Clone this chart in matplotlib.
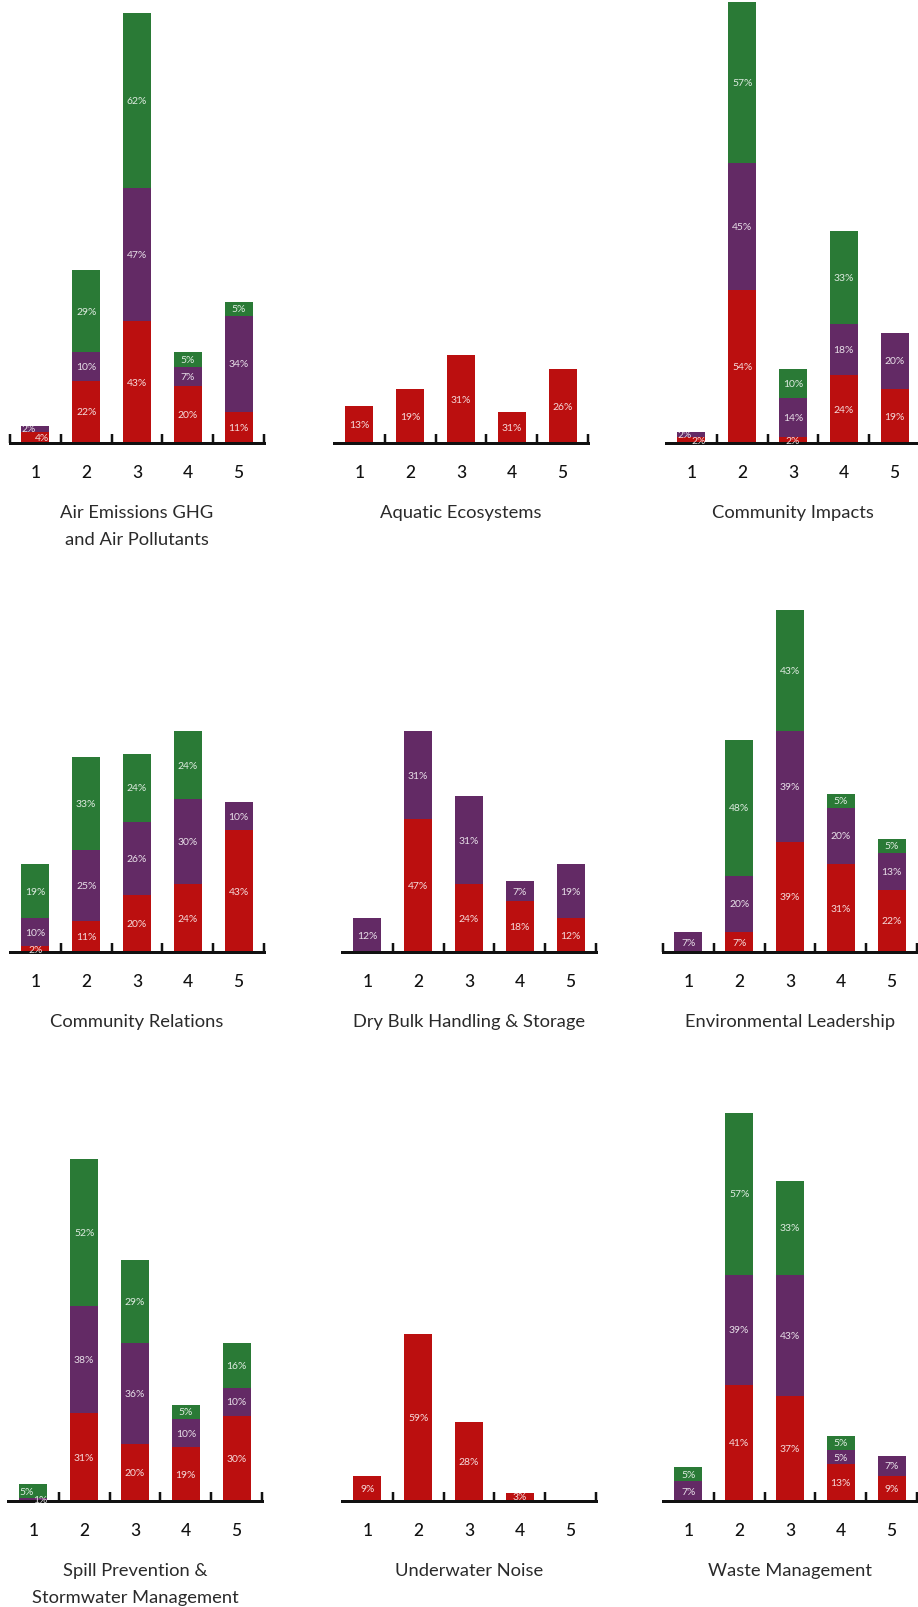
import matplotlib
matplotlib.use("Agg")
import matplotlib.pyplot as plt

titles = ["Air Emissions GHG\nand Air Pollutants", "Aquatic Ecosystems", "Community Impacts",
          "Community Relations", "Dry Bulk Handling & Storage", "Environmental Leadership",
          "Spill Prevention &\nStormwater Management", "Underwater Noise", "Waste Management"]
categories = [1, 2, 3, 4, 5]

# one list of 5 per panel, bottom -> top
red_vals = [[4, 22, 43, 20, 11], [13, 19, 31, 11, 26], [2, 54, 2, 24, 19],
            [2, 11, 20, 24, 43], [0, 47, 24, 18, 12], [0, 7, 39, 31, 22],
            [0, 31, 20, 19, 30], [9, 59, 28, 3, 0], [0, 41, 37, 13, 9]]
purple_vals = [[2, 10, 47, 7, 34], [0, 0, 0, 0, 0], [2, 45, 14, 18, 20],
               [10, 25, 26, 30, 10], [12, 31, 31, 7, 19], [7, 20, 39, 20, 13],
               [1, 38, 36, 10, 10], [0, 0, 0, 0, 0], [7, 39, 43, 5, 7]]
green_vals = [[0, 29, 62, 5, 5], [0, 0, 0, 0, 0], [0, 57, 10, 33, 0],
              [19, 33, 24, 24, 0], [0, 0, 0, 0, 0], [0, 48, 43, 5, 5],
              [5, 52, 29, 5, 16], [0, 0, 0, 0, 0], [5, 57, 33, 5, 0]]
# label as printed in the source (panel, bar, layer) -> text
label_fix = {(1, 3, 0): "31%"}

RED = "#bb0f0f"
PURPLE = "#632a65"
GREEN = "#2a7a36"

W, H = 918, 1608
K = 2.83      # px per percent
STEP = 50.8   # px per category
YMAX = 160

baselines = [444, 953, 1502]
lefts = [[10, 334, 666], [10, 342, 663], [8, 342, 663]]
left_tick = [[True, False, False], [False, False, True], [False, False, False]]

plt.rcParams['font.family'] = ['Lato', 'DejaVu Sans']


def pt(v):
    # pixels -> points at dpi 100
    return v * 0.72


fig = plt.figure(figsize=(W / 100, H / 100), dpi=100)

for i in range(9):
    r, c = divmod(i, 3)
    x0 = lefts[r][c]
    base = baselines[r]
    ax = fig.add_axes([x0 / W, (H - base) / H, 5 * STEP / W, YMAX * K / H])
    ax.set_xlim(0.5, 5.5)
    ax.set_ylim(0, YMAX)
    ax.patch.set_alpha(0)

    layers = [red_vals[i], purple_vals[i], green_vals[i]]
    colors = [RED, PURPLE, GREEN]
    bottom = [0] * 5
    segs = [[] for _ in range(5)]
    for li, (vals, col) in enumerate(zip(layers, colors)):
        ax.bar(categories, vals, 0.55, bottom=bottom, color=col, linewidth=0)
        for j in range(5):
            if vals[j] > 0:
                segs[j].append((bottom[j] + vals[j] / 2, label_fix.get((i, j, li), "%d%%" % vals[j])))
        bottom = [b + v for b, v in zip(bottom, vals)]

    for j in range(5):
        shifts = [0] * len(segs[j])
        for k in range(len(segs[j]) - 1):
            if segs[j][k + 1][0] - segs[j][k][0] < 4:
                shifts[k] = 7
                shifts[k + 1] = -7
        for (yc, txt), dx in zip(segs[j], shifts):
            ax.annotate(txt, (categories[j], yc), xytext=(pt(dx), 0), textcoords="offset points",
                        ha="center", va="center", fontsize=7.5, color="white", alpha=0.85)

    for s in ["top", "left", "right"]:
        ax.spines[s].set_visible(False)
    ax.spines["bottom"].set_linewidth(pt(3))
    ax.spines["bottom"].set_color("#111111")
    ax.set_yticks([])
    ax.set_xticks(categories)
    minor = [1.5, 2.5, 3.5, 4.5, 5.5]
    if left_tick[r][c]:
        minor = [0.5] + minor
    ax.set_xticks(minor, minor=True)
    ax.tick_params(which="major", length=0, pad=pt(21), labelsize=12.5, labelcolor="#111111")
    for lab in ax.get_xticklabels():
        lab.set_fontweight("medium")
    ax.tick_params(which="minor", direction="in", length=pt(9), width=pt(2.5), color="#111111")

    for n, line in enumerate(titles[i].split("\n")):
        ax.annotate(line, (0.5, 0), xycoords="axes fraction", xytext=(0, -pt(69 + 27 * n)),
                    textcoords="offset points", ha="center", va="center",
                    fontsize=13.2, color="#2a2a2a")

fig.savefig("out.png", dpi=100)
